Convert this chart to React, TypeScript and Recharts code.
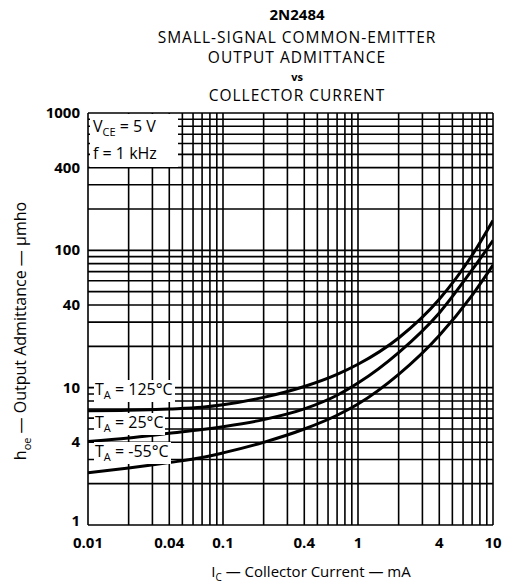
import React from "react"
import { LineChart, Line, XAxis, YAxis, ReferenceLine } from "recharts"

// collector current, mA
const current = [0.01, 0.02, 0.04, 0.07, 0.1, 0.2, 0.4, 0.7, 1, 2, 4, 7, 10]
// output admittance, umho
const t125 = [6.8, 6.85, 7.0, 7.2, 7.5, 8.5, 10.2, 12.5, 14.8, 23, 44, 92, 165]
const t25 = [4.05, 4.3, 4.65, 4.95, 5.2, 5.85, 7.0, 8.8, 10.8, 18, 35, 72, 118]
const tm55 = [2.4, 2.6, 2.85, 3.1, 3.35, 4.0, 5.0, 6.3, 7.6, 12.5, 24, 47, 78]

const xTicks = [0.01, 0.04, 0.1, 0.4, 1, 4, 10]
const yTicks = [1, 4, 10, 40, 100, 400, 1000]

const xGrid = [
  0.01, 0.02, 0.03, 0.04, 0.05, 0.06, 0.07, 0.08, 0.09,
  0.1, 0.2, 0.3, 0.4, 0.5, 0.6, 0.7, 0.8, 0.9,
  1, 2, 3, 4, 5, 6, 7, 8, 9, 10,
]
const yGrid = [
  1, 2, 3, 4, 5, 6, 7, 8, 9,
  10, 20, 30, 40, 50, 60, 70, 80, 90,
  100, 200, 300, 400, 500, 600, 700, 800, 900, 1000,
]

const rows = current.map((ic, i) => ({ ic, t125: t125[i], t25: t25[i], tm55: tm55[i] }))

const font = "'Open Sans', 'DejaVu Sans', sans-serif"
const tickStyle = { fill: "#000", fontSize: 15, fontWeight: 700, fontFamily: font }

const abs = (left: number, top: number, extra: React.CSSProperties = {}): React.CSSProperties => ({
  position: "absolute",
  left,
  top,
  fontFamily: font,
  color: "#000",
  lineHeight: 1,
  whiteSpace: "nowrap",
  ...extra,
})

function TempLabel({ top, text }: { top: number; text: string }) {
  return (
    <div style={abs(94, top, { background: "#fff", fontSize: 16, padding: "1px 2px 2px 1px" })}>
      T<sub style={{ fontSize: 11 }}>A</sub> = {text}
    </div>
  )
}

function YTick({ x, y, payload }: { x: number; y: number; payload: { value: number } }) {
  // the lowest label sits a little above the corner, clear of the x labels
  const shift = payload.value === 1 ? -4 : 0
  return (
    <text x={x} y={y + shift} dy={5} textAnchor="end" {...tickStyle}>
      {payload.value}
    </text>
  )
}

export default function App() {
  return (
    <div style={{ position: "absolute", left: 0, top: 0, width: 509, height: 585, background: "#fff" }}>
      <div style={abs(0, 7, { width: 594, textAlign: "center", fontSize: 15, fontWeight: 700 })}>2N2484</div>
      <div style={abs(0, 30, { width: 594, textAlign: "center", fontSize: 15.5, letterSpacing: 1 })}>
        SMALL-SIGNAL COMMON-EMITTER
      </div>
      <div style={abs(0, 50, { width: 594, textAlign: "center", fontSize: 15.5, letterSpacing: 1 })}>
        OUTPUT ADMITTANCE
      </div>
      <div style={abs(0, 71, { width: 594, textAlign: "center", fontSize: 11, fontWeight: 700 })}>vs</div>
      <div style={abs(0, 88, { width: 594, textAlign: "center", fontSize: 15.5, letterSpacing: 1 })}>
        COLLECTOR CURRENT
      </div>

      <LineChart width={509} height={585} data={rows} margin={{ top: 113, right: 16, bottom: 20, left: 0 }}>
        <XAxis
          dataKey="ic"
          type="number"
          scale="log"
          domain={[0.01, 10]}
          ticks={xTicks}
          tickFormatter={(v: number) => String(v)}
          axisLine={false}
          tickLine={false}
          tickSize={0}
          tickMargin={12}
          height={40}
          tick={tickStyle}
          allowDataOverflow
        />
        <YAxis
          type="number"
          scale="log"
          domain={[1, 1000]}
          ticks={yTicks}
          axisLine={false}
          tickLine={false}
          tickSize={0}
          tickMargin={8}
          width={88}
          tick={YTick}
          allowDataOverflow
        />
        {xGrid.map((v) => (
          <ReferenceLine key={"x" + v} x={v} stroke="#000" strokeWidth={1.6} ifOverflow="extendDomain" />
        ))}
        {yGrid.map((v) => (
          <ReferenceLine key={"y" + v} y={v} stroke="#000" strokeWidth={1.6} ifOverflow="extendDomain" />
        ))}
        <Line type="monotone" dataKey="t125" stroke="#000" strokeWidth={3} dot={false} isAnimationActive={false} />
        <Line type="monotone" dataKey="t25" stroke="#000" strokeWidth={3} dot={false} isAnimationActive={false} />
        <Line type="monotone" dataKey="tm55" stroke="#000" strokeWidth={3} dot={false} isAnimationActive={false} />
      </LineChart>

      <div style={abs(90, 114, { width: 88, height: 53, background: "#fff" })}>
        <div style={{ position: "absolute", left: 3, top: 4, fontSize: 16 }}>
          V<sub style={{ fontSize: 11 }}>CE</sub> = 5 V
        </div>
        <div style={{ position: "absolute", left: 3, top: 31, fontSize: 16 }}>f = 1 kHz</div>
      </div>

      <TempLabel top={380} text="125°C" />
      <TempLabel top={413} text="25°C" />
      <TempLabel top={442} text="-55°C" />

      <div
        style={abs(22, 331, {
          fontSize: 16,
          transform: "translate(-50%, -50%) rotate(-90deg)",
        })}
      >
        h<sub style={{ fontSize: 11 }}>oe</sub> — Output Admittance — μmho
      </div>
      <div style={abs(0, 564, { width: 622, textAlign: "center", fontSize: 15 })}>
        I<sub style={{ fontSize: 10 }}>C</sub> — Collector Current — mA
      </div>
    </div>
  )
}
